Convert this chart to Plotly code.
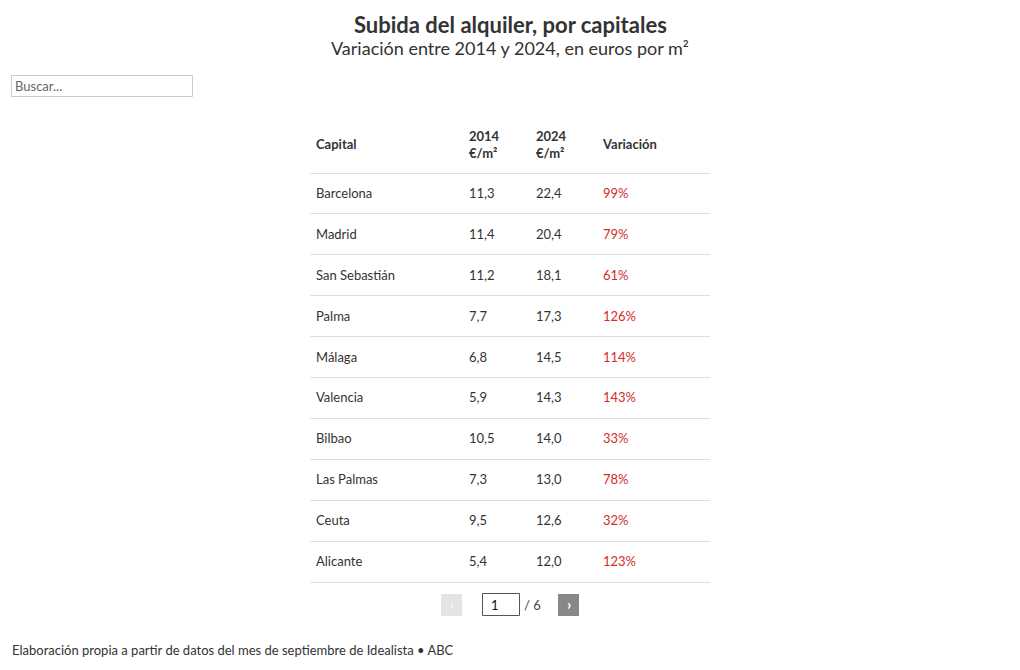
import plotly.graph_objects as go

# ── Data ─────────────────────────────────────────────────────────
capitals = ['Barcelona', 'Madrid', 'San Sebastián', 'Palma', 'Málaga',
            'Valencia', 'Bilbao', 'Las Palmas', 'Ceuta', 'Alicante']
precio_2014 = [11.3, 11.4, 11.2, 7.7, 6.8, 5.9, 10.5, 7.3, 9.5, 5.4]
precio_2024 = [22.4, 20.4, 18.1, 17.3, 14.5, 14.3, 14.0, 13.0, 12.6, 12.0]
variacion = [99, 79, 61, 126, 114, 143, 33, 78, 32, 123]
headers = ['Capital', '2014<br>€/m²', '2024<br>€/m²', 'Variación']

# ── Layout constants ─────────────────────────────────────────────
OFF = 8                              # page body margin of the html
W, H = 1020, 670
L, R, T, B = 310 - OFF, 310 + OFF, 115 - OFF, 88 + OFF
HEADER_PX, ROW_PX = 58, 40.9
col_x = [6, 159, 226, 293]          # left edge of each column, px inside table
FONT = 'Source Sans Pro, Lato, Noto Sans, sans-serif'
TXT = '#333333'
RED = '#d42a2a'
LINE = '#dddddd'


def px(x):
    return (x - OFF - L) / (W - L - R)


def py(y):
    return 1 - (y - OFF - T) / (H - T - B)


def fmt(v):
    return f'{v:.1f}'.replace('.', ',')


def label(x, y, text, size=13, color=TXT, anchor='center'):
    fig.add_annotation(x=px(x), y=py(y), xref='paper', yref='paper',
                       xanchor=anchor, yanchor='middle', showarrow=False,
                       text=text, font=dict(family=FONT, size=size, color=color))


n = len(capitals)
rows = [r + 0.03 for r in range(n)]   # nudge text a hair down in each row
header_y = -0.5 - 27 / ROW_PX

fig = go.Figure()

# header
fig.add_trace(go.Scatter(
    x=col_x, y=[header_y] * 4, mode='text',
    text=[f'<b>{h}</b>' for h in headers], textposition='middle right',
    textfont=dict(family=FONT, size=13, color=TXT), hoverinfo='skip',
))
# body columns
body = [
    (capitals, TXT),
    ([fmt(v) for v in precio_2014], TXT),
    ([fmt(v) for v in precio_2024], TXT),
    ([f'{v}%' for v in variacion], RED),
]
for cx, (vals, color) in zip(col_x, body):
    fig.add_trace(go.Scatter(
        x=[cx] * n, y=rows, mode='text', text=vals,
        textposition='middle right',
        textfont=dict(family=FONT, size=13, color=color), hoverinfo='skip',
    ))

fig.update_layout(
    width=W, height=H, showlegend=False,
    paper_bgcolor='white', plot_bgcolor='white',
    margin=dict(l=L, r=R, t=T, b=B, autoexpand=False),
    font=dict(family=FONT, color=TXT),
    xaxis=dict(range=[0, W - L - R], showgrid=False, zeroline=False,
               showticklabels=False, showline=True, linecolor=LINE,
               linewidth=1, fixedrange=True),
    yaxis=dict(range=[n - 0.5, -0.5 - HEADER_PX / ROW_PX],
               tickvals=[r - 0.5 for r in range(n)] + [n - 0.5],
               showticklabels=False, showgrid=True, gridcolor=LINE,
               gridwidth=1, zeroline=False, fixedrange=True),
)

# ── Title, subtitle, footer ──────────────────────────────────────
label(510, 24, '<b>Subida del alquiler, por capitales</b>', size=22)
label(510, 48, 'Variación entre 2014 y 2024, en euros por m²', size=18)
label(10, 650, 'Elaboración propia a partir de datos del mes de septiembre de Idealista • ABC',
      anchor='left')

# ── Search box ───────────────────────────────────────────────────
fig.add_shape(type='rect', xref='paper', yref='paper',
              x0=px(11.5), x1=px(192.5), y0=py(96.5), y1=py(75.5),
              line=dict(color='#cccccc', width=1), fillcolor='white')
label(13, 86, 'Buscar...', color='#666666', anchor='left')

# ── Pagination ───────────────────────────────────────────────────
fig.add_shape(type='rect', xref='paper', yref='paper',
              x0=px(441), x1=px(462), y0=py(616), y1=py(594),
              line=dict(width=0), fillcolor='#e4e4e4')
label(451.5, 604, '<b>‹</b>', size=15, color='#f8f8f8')
fig.add_shape(type='rect', xref='paper', yref='paper',
              x0=px(482.5), x1=px(519.5), y0=py(615.5), y1=py(593.5),
              line=dict(color='#555555', width=1), fillcolor='white')
label(489, 605, '1', color='#111111', anchor='left')
label(522, 605, '/ 6', color='#444444', anchor='left')
fig.add_shape(type='rect', xref='paper', yref='paper',
              x0=px(558), x1=px(579), y0=py(616), y1=py(594),
              line=dict(width=0), fillcolor='#888888')
label(568.5, 604, '<b>›</b>', size=15, color='white')

fig.write_html('out.html', config=dict(displayModeBar=False))
